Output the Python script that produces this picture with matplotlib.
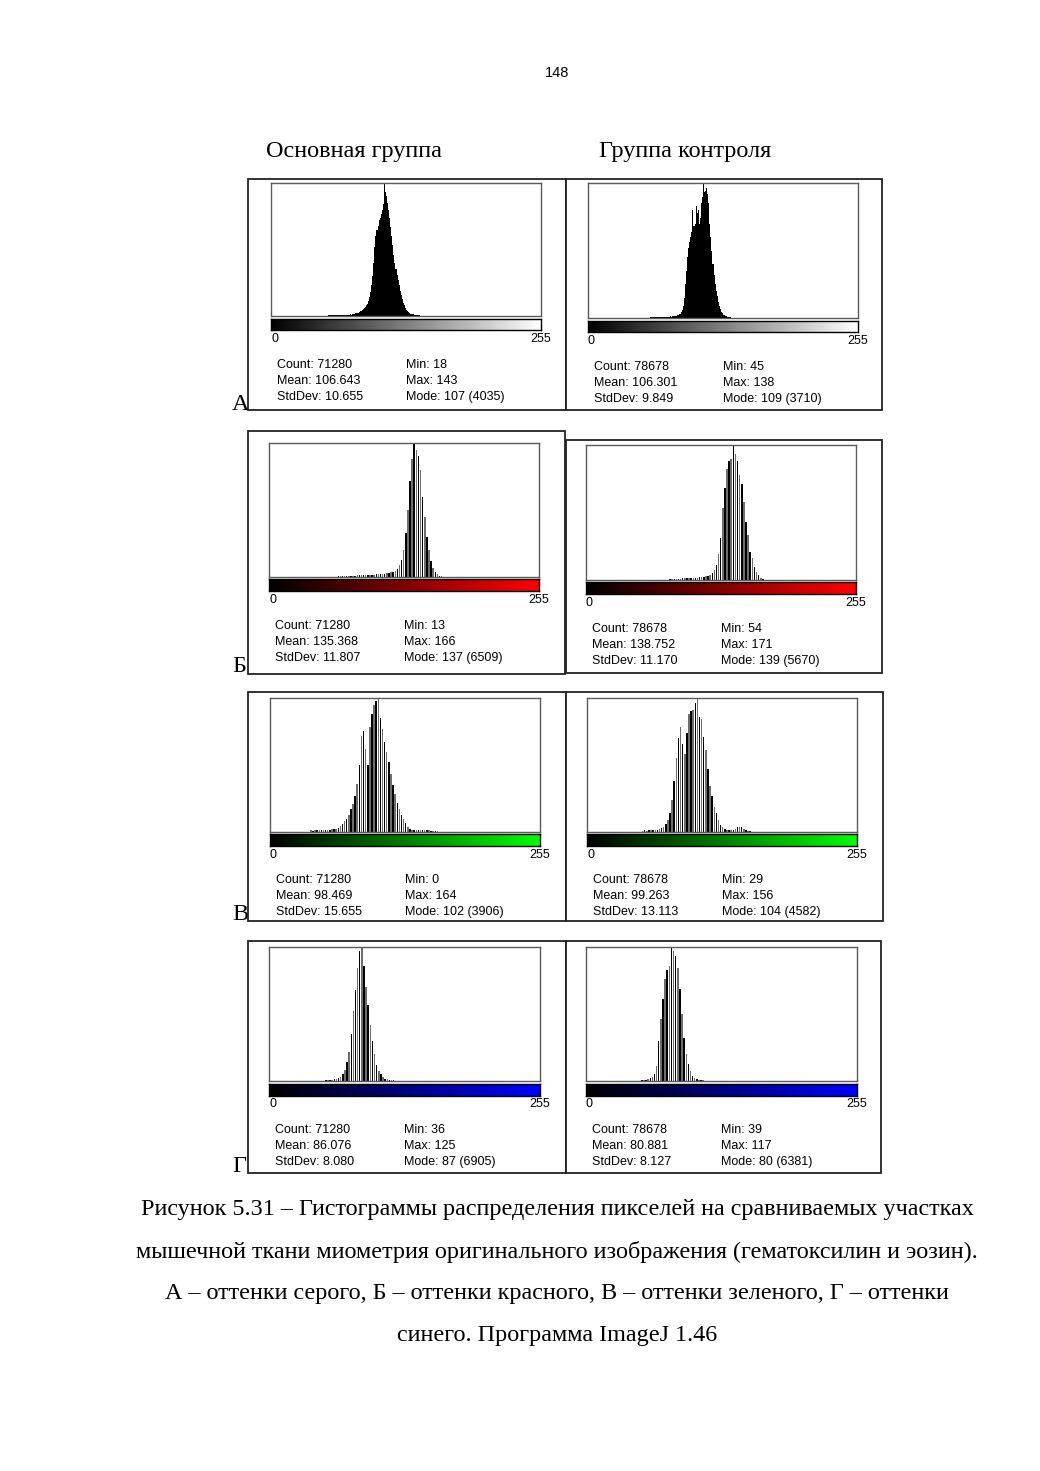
import numpy as np
import matplotlib.pyplot as plt
from matplotlib.patches import Rectangle
from matplotlib.colors import LinearSegmentedColormap

W, H = 1040, 1471

# ---- histogram counts (ImageJ, 256 bins) ----
# grey, main group: bins 18..143
gray_main_start = 18
gray_main = [2, 0, 1, 3, 2, 1, 4, 2, 3, 5, 2, 4, 3, 6, 4, 5, 7, 4, 6, 8,
             5, 7, 9, 6, 8, 10, 7, 9, 11, 8, 12, 10, 13, 11, 14, 12,
             30, 28, 33, 31, 35, 30, 34, 36, 33, 38, 35, 37, 40, 36, 39, 42,
             38, 41, 44, 40, 43, 46, 45, 48, 50, 55,
             81, 89, 101, 121, 141, 161, 182, 202, 242, 282, 323, 363, 444,
             565, 726, 928, 1211, 1614, 2098, 2421, 2623, 2744, 2905, 2986,
             3107, 3228, 3389, 4035, 3753, 3632, 3430, 3228, 2986, 2703, 2421,
             2139, 1856, 1614, 1412, 1251, 1089, 928, 767, 646, 525, 404, 323,
             242, 182, 141, 113, 89, 73, 61, 52, 48, 44, 40, 32, 24, 16, 12, 8, 4]
# grey, control group: bins 45..138
gray_ctrl_start = 45
gray_ctrl = [2, 1, 3, 2, 4, 3, 5, 4, 6, 8, 7, 10, 9, 12, 14, 16, 18,
             30, 33, 31, 35, 34, 37, 33, 36, 38, 35, 39, 37, 40, 36, 41, 39, 42, 40,
             45, 48, 56, 63, 74, 85, 100, 122,
             167, 223, 334, 557, 928, 1299, 1670, 1929, 2078, 2226, 2374, 2968,
             2523, 2597, 3079, 2894, 2968, 2597, 2745, 3154, 3339, 3710, 3450,
             3487, 3562, 3413, 3154, 2597, 2226, 1855, 1484, 1187, 928, 742, 594,
             445, 334, 241, 167, 130, 93, 74, 59, 48, 37, 30, 22, 19, 11, 7, 4]

# colour channels: only every second bin is filled
red_main_start = 13
red_main = [2, 0, 3, 1, 4, 2, 3, 5, 2, 4, 6, 3, 5, 4, 7, 5, 6, 8, 6, 9, 7, 10, 8, 12, 10, 14,
            39, 46, 52, 52, 59, 65, 65, 72, 72, 78, 78, 85, 91, 98, 104, 98, 111, 117,
            124, 130, 137, 150, 163, 176, 195, 221, 247,
            293, 391, 586, 846, 1302, 2148, 3255, 4686, 5728, 6509, 6184, 5858,
            5207, 3905, 2929, 1953, 1302, 781, 456, 260, 130, 65, 33, 13]
red_ctrl_start = 55
red_ctrl = [3, 2, 5, 4, 6, 5, 8, 7, 10, 9, 12, 14,
            45, 45, 51, 57, 57, 62, 68, 68, 74, 79, 85, 91, 96, 102, 113, 125, 136,
            153, 170, 215,
            284, 425, 624, 1077, 1758, 3005, 3856, 4649, 4990, 5103, 5670, 5273,
            4990, 4423, 4026, 3289, 2438, 1871, 1191, 907, 567, 340, 227, 68, 28, 11, 6]
green_main_start = 0
green_main = [1, 0, 2, 0, 1, 3, 2, 1, 4, 3, 2, 5, 3, 6, 12, 4, 7, 5, 8,
              47, 39, 55, 47, 59, 51, 62, 55, 70, 62, 78, 86, 98, 117,
              176, 234, 312, 391, 508, 664, 820, 1055, 1406, 1953, 2812, 2930,
              2422, 1953, 3047, 3437, 3711, 3828, 3906, 3320, 3008, 2617, 2344,
              2031, 1680, 1367, 1094, 859, 664, 508, 371, 254, 156, 98,
              70, 59, 62, 55, 59, 66, 62, 55, 47, 39, 31, 23, 16, 12, 8, 4]
green_ctrl_start = 30
green_ctrl = [2, 3, 1, 4, 2, 5, 3, 6, 4, 8, 10,
              46, 55, 50, 60, 64, 69, 73, 82, 101, 128, 183,
              275, 412, 641, 1100, 1741, 2520, 3207, 3574, 3024, 2658, 3391, 4032,
              4124, 4170, 4399, 4582, 3941, 3849, 3253, 2795, 2154, 1558, 1237,
              871, 641, 412, 252, 160,
              92, 73, 69, 64, 73, 115, 160, 183, 160, 115, 64, 37, 18, 9]
blue_main_start = 37
blue_main = [3, 5, 4, 7, 9, 12, 15, 20, 28,
             41, 55, 69, 83, 104, 138, 207, 345, 587, 967, 1519, 2417, 3591, 4695,
             5800, 6698, 6905, 5938, 4834, 3936, 2900, 2072, 1381, 829, 518, 345,
             207, 124, 83, 69, 55, 35, 21, 14, 7, 5]
blue_ctrl_start = 40
blue_ctrl = [4, 6, 8, 11, 15, 22,
             38, 51, 64, 89, 128, 191, 319, 702, 1914, 2935, 3892, 4850, 5296,
             5488, 6381, 6190, 5934, 5360, 4403, 3191, 2042, 1276, 791, 479, 236,
             160, 96, 64, 38, 26, 19, 13, 6]

# ---- statistics printed under each histogram (row by row, main then control) ----
stat_count = ["71280", "78678", "71280", "78678", "71280", "78678", "71280", "78678"]
stat_mean = ["106.643", "106.301", "135.368", "138.752", "98.469", "99.263", "86.076", "80.881"]
stat_std = ["10.655", "9.849", "11.807", "11.170", "15.655", "13.113", "8.080", "8.127"]
stat_min = ["18", "45", "13", "54", "0", "29", "36", "39"]
stat_max = ["143", "138", "166", "171", "164", "156", "125", "117"]
stat_mode = [107, 109, 137, 139, 102, 104, 87, 80]
stat_mode_count = [4035, 3710, 6509, 5670, 3906, 4582, 6905, 6381]

row_letters = ["А", "Б", "В", "Г"]
col_titles = ["Основная группа", "Группа контроля"]
caption = ["Рисунок 5.31 – Гистограммы распределения пикселей на сравниваемых участках",
           "мышечной ткани миометрия оригинального изображения (гематоксилин и эозин).",
           "А – оттенки серого, Б – оттенки красного, В – оттенки зеленого, Г – оттенки",
           "синего. Программа ImageJ 1.46"]

hists = [(gray_main_start, 1, gray_main), (gray_ctrl_start, 1, gray_ctrl),
         (red_main_start, 2, red_main), (red_ctrl_start, 2, red_ctrl),
         (green_main_start, 2, green_main), (green_ctrl_start, 2, green_ctrl),
         (blue_main_start, 2, blue_main), (blue_ctrl_start, 2, blue_ctrl)]
ramp_colors = ["#ffffff", "#ff0000", "#00ff00", "#0000ff"]

# ---- page layout in pixels (x0, y0, x1, y1), y from top ----
frames = [(248, 179, 566, 410), (566, 179, 882, 410),
          (248, 431, 565, 674), (566, 440, 882, 673),
          (248, 692, 566, 921), (566, 692, 883, 921),
          (248, 941, 566, 1173), (566, 941, 881, 1173)]
boxes = [(271, 183, 541, 316), (588, 183, 858, 318),
         (269, 443, 539, 577), (586, 445, 856, 580),
         (270, 698, 540, 832), (587, 698, 857, 832),
         (269, 947, 540, 1081), (586, 947, 857, 1081)]
ramps = [(319, 330), (321, 332), (579, 591), (582, 594),
         (834, 846), (834, 846), (1084, 1096), (1084, 1096)]
scale_y = [339, 341, 600, 603, 855, 855, 1104, 1104]
stats_y = [365, 367, 626, 629, 880, 880, 1130, 1130]
letter_y = [404, 666, 914, 1167]

serif = ["Liberation Serif", "DejaVu Serif"]
sans = ["Liberation Sans", "DejaVu Sans"]


def fx(x):
    return x / W


def fy(y):
    return 1 - y / H


def add_axes_px(fig, x0, y0, x1, y1):
    ax = fig.add_axes([fx(x0), fy(y1), (x1 - x0) / W, (y1 - y0) / H])
    ax.set_zorder(2)
    return ax


def draw_panel(fig, i):
    x0, y0, x1, y1 = frames[i]
    fig.add_artist(Rectangle((fx(x0), fy(y1)), (x1 - x0) / W, (y1 - y0) / H,
                             transform=fig.transFigure, facecolor="white",
                             edgecolor="#222222", linewidth=1.3, zorder=1))

    bx0, by0, bx1, by1 = boxes[i]
    ax = add_axes_px(fig, bx0, by0, bx1, by1)
    start, step, counts = hists[i]
    counts = np.array(counts)
    if step == 1:
        edges = np.arange(start, start + len(counts) + 1)
        ax.stairs(counts, edges, fill=True, color="black")
    else:
        bins = start + step * np.arange(len(counts))
        colors = ["black" if k % 2 == 0 else "#6e6e6e" for k in range(len(counts))]
        ax.bar(bins, counts, width=1.4, align="edge", color=colors,
               linewidth=0, antialiased=False)
    ax.set_xlim(0, 256)
    ax.set_ylim(0, stat_mode_count[i])
    ax.set_xticks([])
    ax.set_yticks([])
    for s in ax.spines.values():
        s.set_color("#5a5a5a")
        s.set_linewidth(1.0)

    # intensity ramp under the histogram
    ry0, ry1 = ramps[i]
    cax = add_axes_px(fig, bx0, ry0, bx1, ry1)
    cmap = LinearSegmentedColormap.from_list("ramp", ["black", ramp_colors[i // 2]])
    cax.imshow(np.arange(256)[None, :], aspect="auto", cmap=cmap,
               extent=(0, 256, 0, 1))
    cax.set_xticks([])
    cax.set_yticks([])
    for s in cax.spines.values():
        s.set_color("black")
        s.set_linewidth(1.0)

    fs = 9
    fig.text(fx(bx0), fy(scale_y[i]), "0", ha="left", va="center",
             fontsize=fs, family=sans, zorder=3)
    fig.text(fx(bx1 + 10), fy(scale_y[i]), "255", ha="right", va="center",
             fontsize=fs, family=sans, zorder=3)

    c1 = bx0 + 6
    c2 = bx0 + 135
    left = ["Count: " + stat_count[i], "Mean: " + stat_mean[i], "StdDev: " + stat_std[i]]
    right = ["Min: " + stat_min[i], "Max: " + stat_max[i],
             "Mode: %d (%d)" % (stat_mode[i], stat_mode_count[i])]
    for k in range(3):
        yy = stats_y[i] + 16 * k
        fig.text(fx(c1), fy(yy), left[k], ha="left", va="center",
                 fontsize=fs, family=sans, zorder=3)
        fig.text(fx(c2), fy(yy), right[k], ha="left", va="center",
                 fontsize=fs, family=sans, zorder=3)


def main():
    fig = plt.figure(figsize=(W / 100, H / 100), dpi=100)
    fig.patch.set_facecolor("white")

    fig.text(fx(557), fy(73), "148", ha="center", va="center",
             fontsize=10.5, family=sans)

    fig.text(fx(354), fy(152), col_titles[0], ha="center", va="center",
             fontsize=17.5, family=serif)
    fig.text(fx(685), fy(152), col_titles[1], ha="center", va="center",
             fontsize=17.5, family=serif)

    for r, letter in enumerate(row_letters):
        fig.text(fx(232), fy(letter_y[r]), letter, ha="left", va="center",
                 fontsize=17.5, family=serif, zorder=0.5)

    for i in range(8):
        draw_panel(fig, i)

    for k, line in enumerate(caption):
        fig.text(fx(557), fy(1210 + 42 * k), line, ha="center", va="center",
                 fontsize=17.4, family=serif)

    fig.savefig("out.png", dpi=100)


if __name__ == "__main__":
    main()
